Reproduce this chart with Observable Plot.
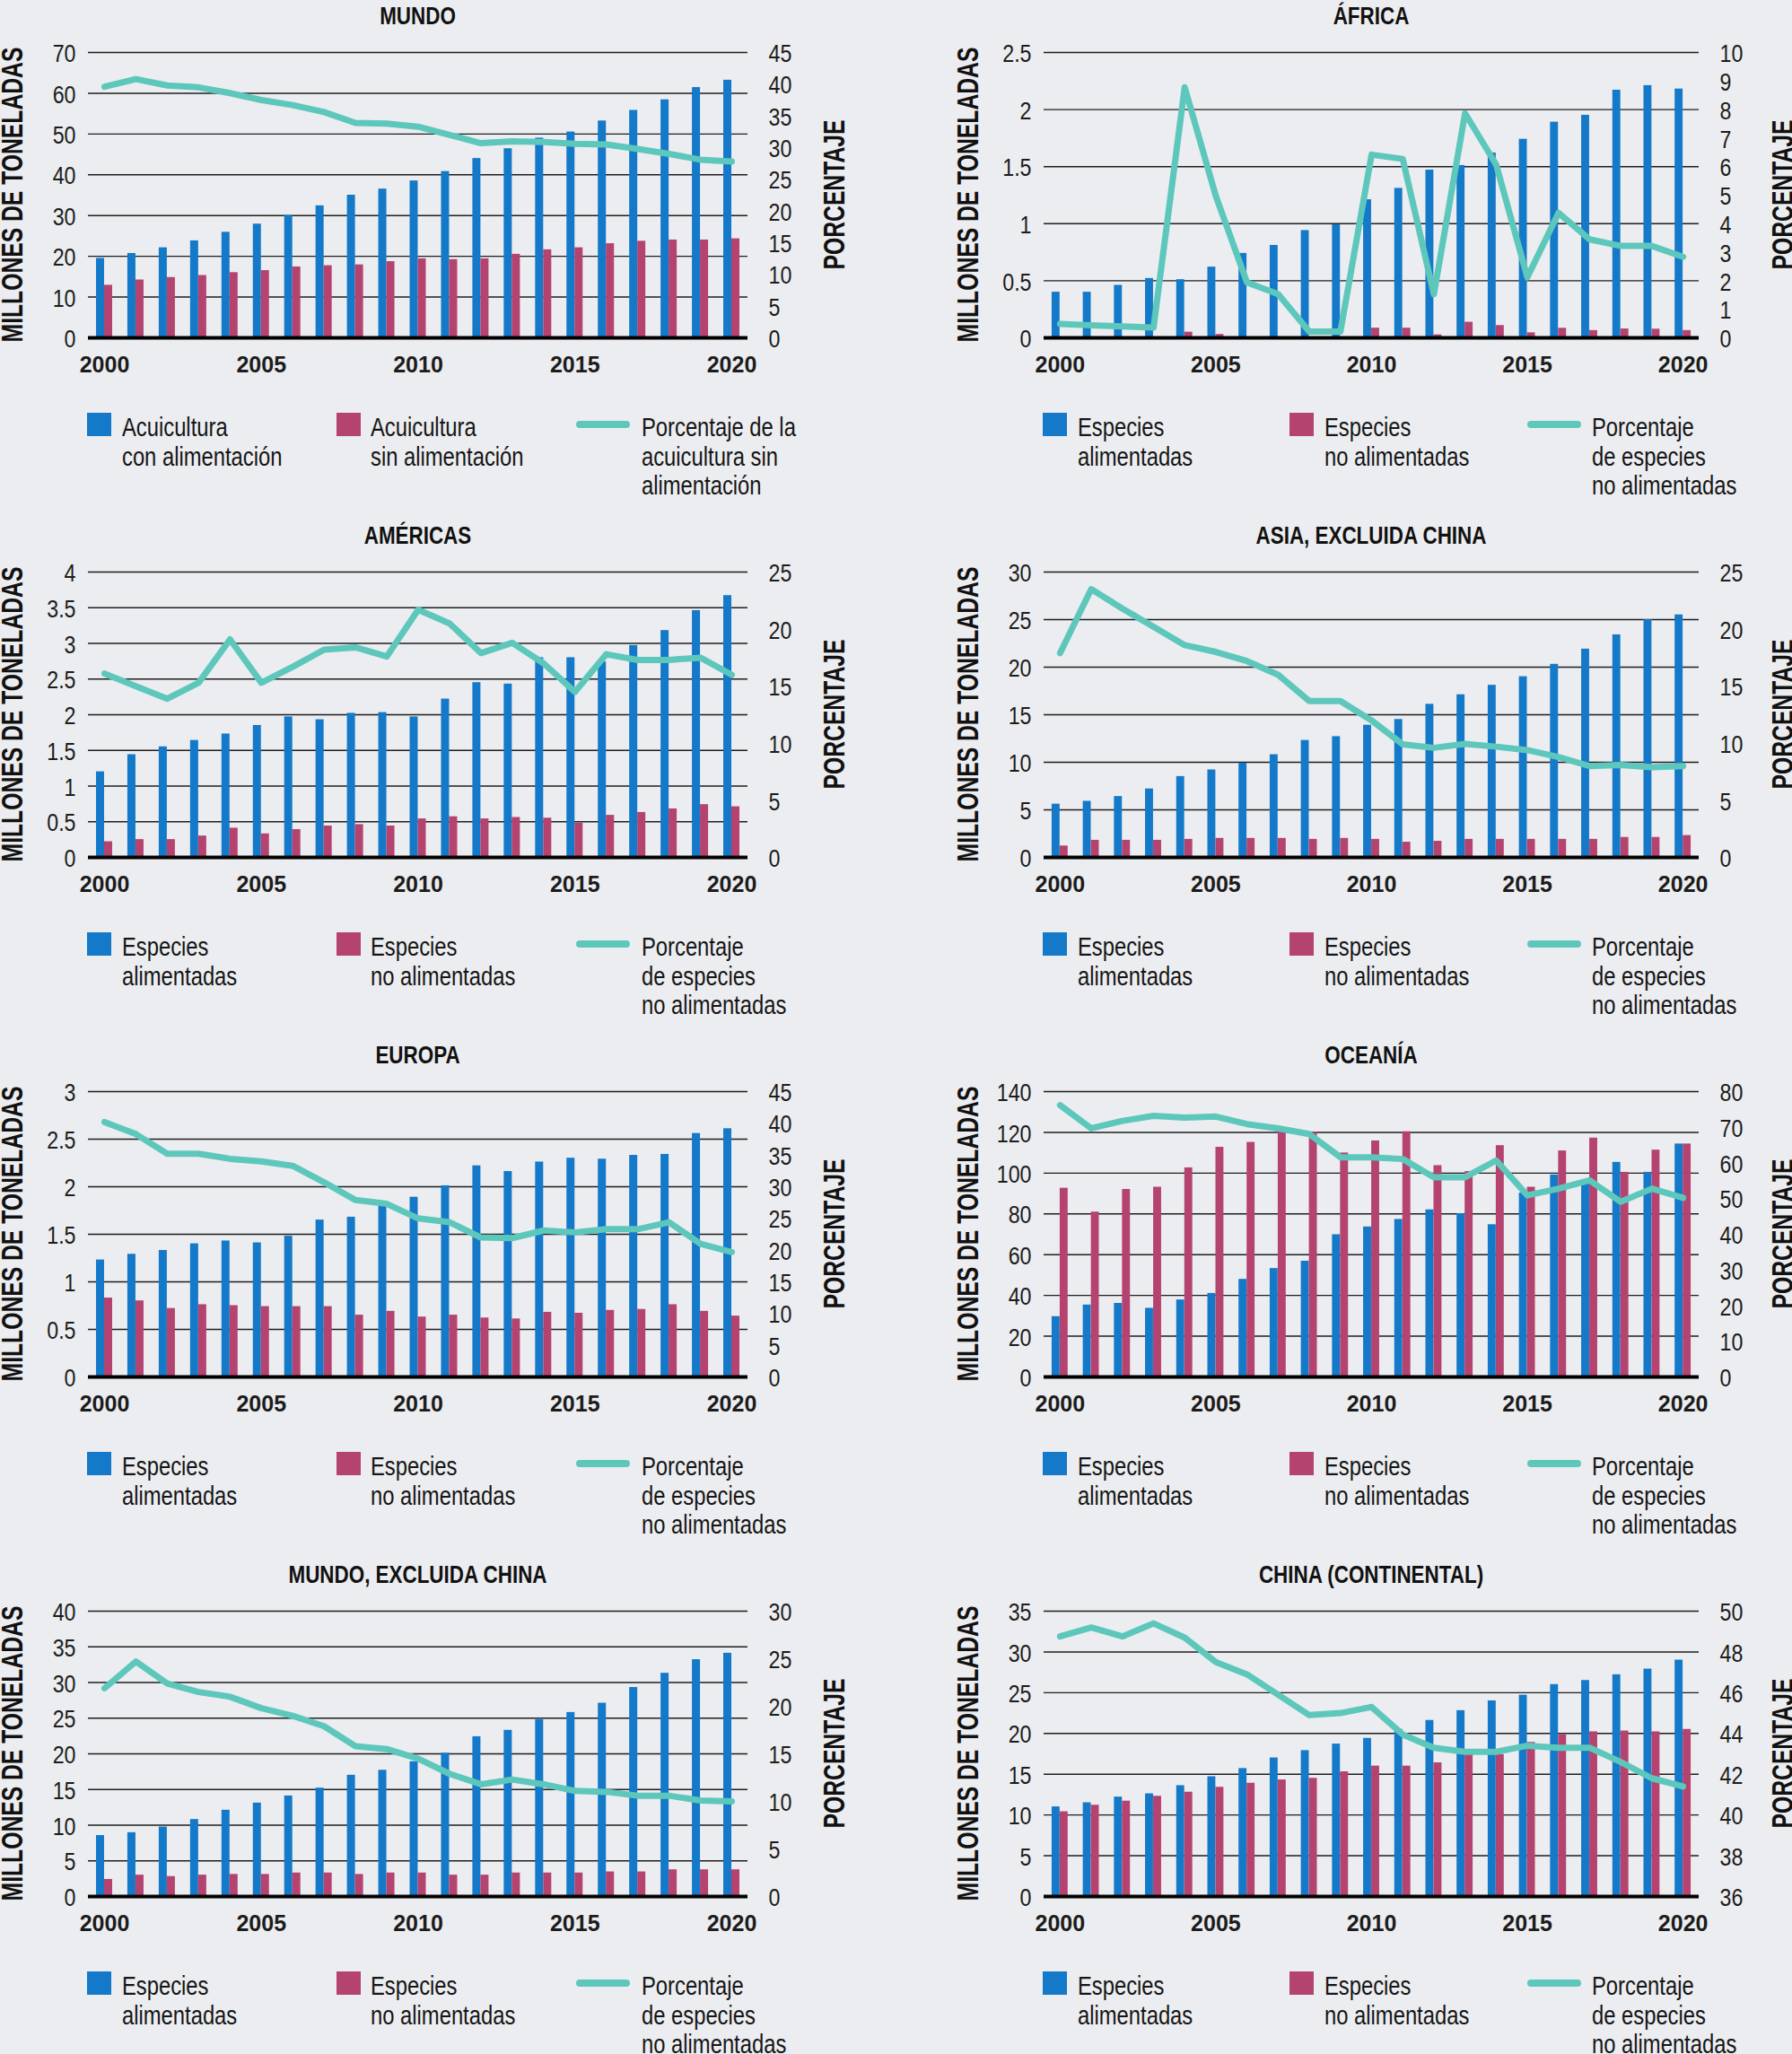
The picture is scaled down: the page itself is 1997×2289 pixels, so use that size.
<!DOCTYPE html>
<html>
<head>
<meta charset="utf-8">
<script src="https://cdn.jsdelivr.net/npm/d3@7"></script>
<script src="https://cdn.jsdelivr.net/npm/@observablehq/plot@0.6"></script>
<style>
  html, body { margin: 0; padding: 0; background: #ecedf0; width: 1997px; height: 2289px; overflow: hidden; }
  .panel { position: absolute; width: 1000px; height: 579px; }
  .title { position: absolute; top: 5px; text-align: center; white-space: nowrap;
           transform: scaleX(0.83); transform-origin: 50% 50%;
           font: bold 27px/27px "Liberation Sans", Arial, sans-serif; color: #111; }
  .ytitle { position: absolute; white-space: nowrap;
            font: bold 34px/34px "Liberation Sans", Arial, sans-serif; color: #111; }
  .plotwrap { position: absolute; left: 0; top: 30px; }
  .sw { position: absolute; top: 460px; width: 27px; height: 26px; }
  .ln { position: absolute; top: 469px; width: 60px; height: 8px; border-radius: 4px; }
  .lt { position: absolute; top: 460px; white-space: nowrap; transform: scaleX(0.82); transform-origin: 0 0;
        font: 29px/32.7px "Liberation Sans", Arial, sans-serif; color: #151515; }
</style>
</head>
<body>
<script>
// ---------- data ----------
const years = [2000,2001,2002,2003,2004,2005,2006,2007,2008,2009,2010,2011,2012,2013,2014,2015,2016,2017,2018,2019,2020];
const yearTicks = [2000, 2005, 2010, 2015, 2020];

const titles = ["MUNDO", "ÁFRICA", "AMÉRICAS", "ASIA, EXCLUIDA CHINA", "EUROPA", "OCEANÍA", "MUNDO, EXCLUIDA CHINA", "CHINA (CONTINENTAL)"];
const leftTitle = "MILLONES DE TONELADAS";
const rightTitle = "PORCENTAJE";
const legendMundo = ["Acuicultura<br>con alimentación", "Acuicultura<br>sin alimentación", "Porcentaje de la<br>acuicultura sin<br>alimentación"];
const legendOther = ["Especies<br>alimentadas", "Especies<br>no alimentadas", "Porcentaje<br>de especies<br>no alimentadas"];

const mundoFed    = [19.5,20.7,22.1,23.8,25.9,27.9,30.0,32.4,35.0,36.5,38.5,40.8,44.0,46.4,49.0,50.5,53.2,55.8,58.4,61.4,63.2];
const mundoNonFed = [12.9,14.2,14.8,15.3,16.0,16.5,17.4,17.7,17.9,18.7,19.4,19.2,19.4,20.5,21.6,22.1,23.1,23.7,24.0,24.0,24.3];
const mundoPct    = [39.6,40.8,39.8,39.5,38.6,37.5,36.7,35.6,33.9,33.8,33.3,32.0,30.7,31.0,30.9,30.6,30.5,29.8,29.0,28.1,27.8];

const africaFed    = [0.40,0.40,0.46,0.52,0.51,0.62,0.74,0.81,0.94,0.99,1.21,1.31,1.47,1.51,1.62,1.74,1.89,1.95,2.17,2.21,2.18];
const africaNonFed = [0,0,0,0,0.05,0.03,0,0,0,0,0.085,0.085,0.026,0.137,0.108,0.044,0.084,0.064,0.078,0.076,0.064];
const africaPct    = [0.49,0.44,0.40,0.36,8.78,4.97,1.94,1.53,0.22,0.22,6.42,6.27,1.53,7.87,6.07,2.12,4.38,3.45,3.22,3.22,2.84];

const americasFed    = [1.20,1.44,1.55,1.64,1.73,1.85,1.97,1.93,2.02,2.03,1.97,2.22,2.45,2.43,2.80,2.80,2.74,2.97,3.18,3.46,3.67];
const americasNonFed = [0.22,0.25,0.25,0.30,0.41,0.33,0.39,0.44,0.46,0.44,0.54,0.57,0.54,0.56,0.55,0.48,0.59,0.63,0.68,0.74,0.71];
const americasPct    = [16.1,15.0,13.9,15.3,19.1,15.3,16.7,18.2,18.4,17.6,21.7,20.5,17.9,18.8,17.0,14.5,17.8,17.3,17.3,17.5,16.0];

const asiaFed    = [5.6,5.9,6.4,7.2,8.5,9.2,9.9,10.8,12.3,12.7,13.9,14.5,16.1,17.1,18.1,19.0,20.3,21.9,23.4,25.0,25.5];
const asiaNonFed = [1.2,1.8,1.8,1.8,1.9,2.0,2.0,2.0,1.9,2.0,1.9,1.6,1.7,1.9,1.9,1.9,1.9,1.9,2.1,2.1,2.3];
const asiaPct    = [17.9,23.5,21.8,20.2,18.6,18.0,17.2,16.0,13.7,13.7,12.0,9.9,9.6,9.95,9.7,9.4,8.8,8.0,8.1,7.9,8.0];

const europaFed    = [1.23,1.29,1.33,1.40,1.43,1.41,1.48,1.65,1.68,1.80,1.89,2.01,2.22,2.16,2.26,2.30,2.29,2.33,2.34,2.56,2.61];
const europaNonFed = [0.83,0.80,0.72,0.76,0.75,0.74,0.74,0.74,0.65,0.69,0.63,0.65,0.62,0.61,0.68,0.67,0.70,0.71,0.76,0.69,0.64];
const europaPct    = [40.2,38.3,35.2,35.2,34.4,34.0,33.3,30.7,27.9,27.3,25.0,24.4,22.0,21.9,23.1,22.8,23.3,23.3,24.4,21.0,19.7];

const oceaniaFed    = [29.6,35.3,36.1,33.7,37.8,41.0,47.9,53.2,56.8,69.8,73.6,77.3,82.0,80.1,74.7,90.2,99.1,96.0,105.3,100.4,114.3];
const oceaniaNonFed = [92.6,80.9,92.0,93.1,102.6,112.7,115.1,120.8,120.0,109.9,115.8,120.3,103.7,100.8,113.5,93.1,110.9,117.2,100.4,111.3,114.3];
const oceaniaPct    = [76.2,69.7,71.8,73.2,72.7,73.0,70.9,69.7,68.1,61.6,61.6,61.1,56.0,56.0,60.7,50.9,52.8,55.1,49.1,52.8,50.2];

const mundoExChFed    = [8.55,8.95,9.74,10.8,12.1,13.1,14.1,15.2,17.0,17.7,18.9,20.1,22.4,23.3,24.8,25.8,27.1,29.3,31.3,33.2,34.1];
const mundoExChNonFed = [2.4,3.0,2.8,3.0,3.1,3.1,3.3,3.3,3.1,3.3,3.3,3.0,3.0,3.3,3.3,3.3,3.45,3.45,3.75,3.75,3.75];
const mundoExChPct    = [21.9,24.7,22.4,21.5,21.0,19.8,19.0,17.9,15.8,15.5,14.5,12.9,11.8,12.3,11.8,11.1,11.0,10.6,10.6,10.1,10.0];

const chinaFed    = [11.0,11.5,12.2,12.6,13.6,14.7,15.7,17.0,17.9,18.7,19.4,20.5,21.6,22.8,24.0,24.7,26.0,26.5,27.2,27.9,29.0];
const chinaNonFed = [10.4,11.2,11.7,12.3,12.8,13.4,13.9,14.3,14.5,15.3,16.0,16.0,16.4,17.4,17.4,18.9,19.85,20.2,20.3,20.2,20.5];
const chinaPct    = [48.76,49.2,48.76,49.4,48.7,47.5,46.9,45.9,44.9,45.0,45.3,43.95,43.3,43.1,43.1,43.4,43.3,43.3,42.6,41.8,41.4];

// tick labels
const mundoLeftTicks = [0,10,20,30,40,50,60,70],           mundoRightTicks = [0,5,10,15,20,25,30,35,40,45];
const africaLeftTicks = [0,0.5,1,1.5,2,2.5],                africaRightTicks = [0,1,2,3,4,5,6,7,8,9,10];
const americasLeftTicks = [0,0.5,1,1.5,2,2.5,3,3.5,4],      americasRightTicks = [0,5,10,15,20,25];
const asiaLeftTicks = [0,5,10,15,20,25,30],                 asiaRightTicks = [0,5,10,15,20,25];
const europaLeftTicks = [0,0.5,1,1.5,2,2.5,3],              europaRightTicks = [0,5,10,15,20,25,30,35,40,45];
const oceaniaLeftTicks = [0,20,40,60,80,100,120,140],       oceaniaRightTicks = [0,10,20,30,40,50,60,70,80];
const mundoExChLeftTicks = [0,5,10,15,20,25,30,35,40],      mundoExChRightTicks = [0,5,10,15,20,25,30];
const chinaLeftTicks = [0,5,10,15,20,25,30,35],             chinaRightTicks = [36,38,40,42,44,46,48,50];

// ---------- style ----------
const BLUE = "#1479c8", PINK = "#b4436f", TEAL = "#5dc7bc";
const FONT = '"Liberation Sans", Arial, sans-serif';

const panels = [
  {title: titles[0], fed: mundoFed, non: mundoNonFed, pct: mundoPct, lt: mundoLeftTicks, rt: mundoRightTicks, legend: legendMundo},
  {title: titles[1], fed: africaFed, non: africaNonFed, pct: africaPct, lt: africaLeftTicks, rt: africaRightTicks, legend: legendOther},
  {title: titles[2], fed: americasFed, non: americasNonFed, pct: americasPct, lt: americasLeftTicks, rt: americasRightTicks, legend: legendOther},
  {title: titles[3], fed: asiaFed, non: asiaNonFed, pct: asiaPct, lt: asiaLeftTicks, rt: asiaRightTicks, legend: legendOther},
  {title: titles[4], fed: europaFed, non: europaNonFed, pct: europaPct, lt: europaLeftTicks, rt: europaRightTicks, legend: legendOther},
  {title: titles[5], fed: oceaniaFed, non: oceaniaNonFed, pct: oceaniaPct, lt: oceaniaLeftTicks, rt: oceaniaRightTicks, legend: legendOther},
  {title: titles[6], fed: mundoExChFed, non: mundoExChNonFed, pct: mundoExChPct, lt: mundoExChLeftTicks, rt: mundoExChRightTicks, legend: legendOther},
  {title: titles[7], fed: chinaFed, non: chinaNonFed, pct: chinaPct, lt: chinaLeftTicks, rt: chinaRightTicks, legend: legendOther}
];

// per-column layout
const cols = [
  {left: 0,    plotRight: 833, rTitle: 929, sw2: 375, t2: 413, ln: 642, t3: 715},
  {left: 1065, plotRight: 828, rTitle: 921, sw2: 372, t2: 411, ln: 637, t3: 709}
];
const SVG_W = 960, SVG_H = 396, MT = 28, MB = 50, ML = 98;

function rotatedTitle(parent, text, cx, cy, length) {
  const e = document.createElement("div");
  e.className = "ytitle";
  e.textContent = text;
  parent.appendChild(e);
  const w = e.offsetWidth, h = e.offsetHeight;
  e.style.left = (cx - w / 2) + "px";
  e.style.top = (cy - h / 2) + "px";
  e.style.transform = `rotate(-90deg) scaleX(${length / w})`;
}

panels.forEach((p, i) => {
  const col = cols[i % 2];
  const row = Math.floor(i / 2);
  const div = document.createElement("div");
  div.className = "panel";
  div.style.left = col.left + "px";
  div.style.top = (row * 579) + "px";
  document.body.appendChild(div);

  const rows = years.map((year, j) => ({year, fed: p.fed[j], non: p.non[j], pct: p.pct[j]}));
  const lMax = p.lt[p.lt.length - 1];
  const r0 = p.rt[0], r1 = p.rt[p.rt.length - 1];
  const toLeft = v => (v - r0) / (r1 - r0) * lMax;

  const chart = Plot.plot({
    width: SVG_W, height: SVG_H,
    marginTop: MT, marginBottom: MB, marginLeft: ML, marginRight: SVG_W - col.plotRight,
    style: {background: "transparent", color: "#1c1c1c", fontFamily: FONT, overflow: "visible"},
    x: {type: "band", domain: years, paddingInner: 0.485, paddingOuter: 0.257, round: false, axis: null},
    y: {domain: [0, lMax], axis: null},
    marks: [
      Plot.gridY(p.lt, {stroke: "#1e1e1e", strokeOpacity: 1, strokeWidth: 1.4}),
      Plot.barY(rows, {x: "year", y: "fed", fill: BLUE, insetRight: 9}),
      Plot.barY(rows, {x: "year", y: "non", fill: PINK, insetLeft: 9}),
      Plot.ruleY([0], {stroke: "#000", strokeWidth: 4}),
      Plot.lineY(rows, {x: "year", y: d => toLeft(d.pct), stroke: TEAL, strokeWidth: 7, strokeLinejoin: "round", strokeLinecap: "round"}),
      Plot.axisY(p.lt, {anchor: "left", tickSize: 0, tickPadding: 14, fontSize: 27, fontFamily: FONT, dy: 2,
                        tickFormat: d => String(d), label: null}),
      Plot.axisY(p.rt, {anchor: "right", y: d => toLeft(d), tickSize: 0, tickPadding: 23, fontSize: 27, fontFamily: FONT, dy: 2,
                        tickFormat: d => String(d), label: null}),
      Plot.axisX({ticks: yearTicks, tickSize: 0, tickPadding: 21, fontSize: 25, fontWeight: "bold", fontFamily: FONT,
                  tickFormat: d => String(d), label: null})
    ]
  });
  const wrap = document.createElement("div");
  wrap.className = "plotwrap";
  wrap.appendChild(chart);
  div.appendChild(wrap);

  // condense the y tick labels slightly, like the reference's narrow face
  chart.querySelectorAll('g[aria-label="y-axis tick label"] text').forEach(t => {
    const w = t.getComputedTextLength();
    if (w > 0) {
      t.setAttribute("textLength", (w * 0.86).toFixed(2));
      t.setAttribute("lengthAdjust", "spacingAndGlyphs");
    }
  });

  // title
  const t = document.createElement("div");
  t.className = "title";
  t.style.left = ML + "px";
  t.style.width = (col.plotRight - ML) + "px";
  t.textContent = p.title;
  div.appendChild(t);

  // axis titles
  rotatedTitle(div, leftTitle, 13, 217, 329);
  rotatedTitle(div, rightTitle, col.rTitle, 217, 167);

  // legend
  const add = (cls, left, html, bg) => {
    const e = document.createElement("div");
    e.className = cls;
    e.style.left = left + "px";
    if (bg) e.style.background = bg;
    if (html) e.innerHTML = html;
    div.appendChild(e);
  };
  add("sw", 97, null, BLUE);
  add("lt", 136, p.legend[0]);
  add("sw", col.sw2, null, PINK);
  add("lt", col.t2, p.legend[1]);
  add("ln", col.ln, null, TEAL);
  add("lt", col.t3, p.legend[2]);
});
</script>
</body>
</html>
